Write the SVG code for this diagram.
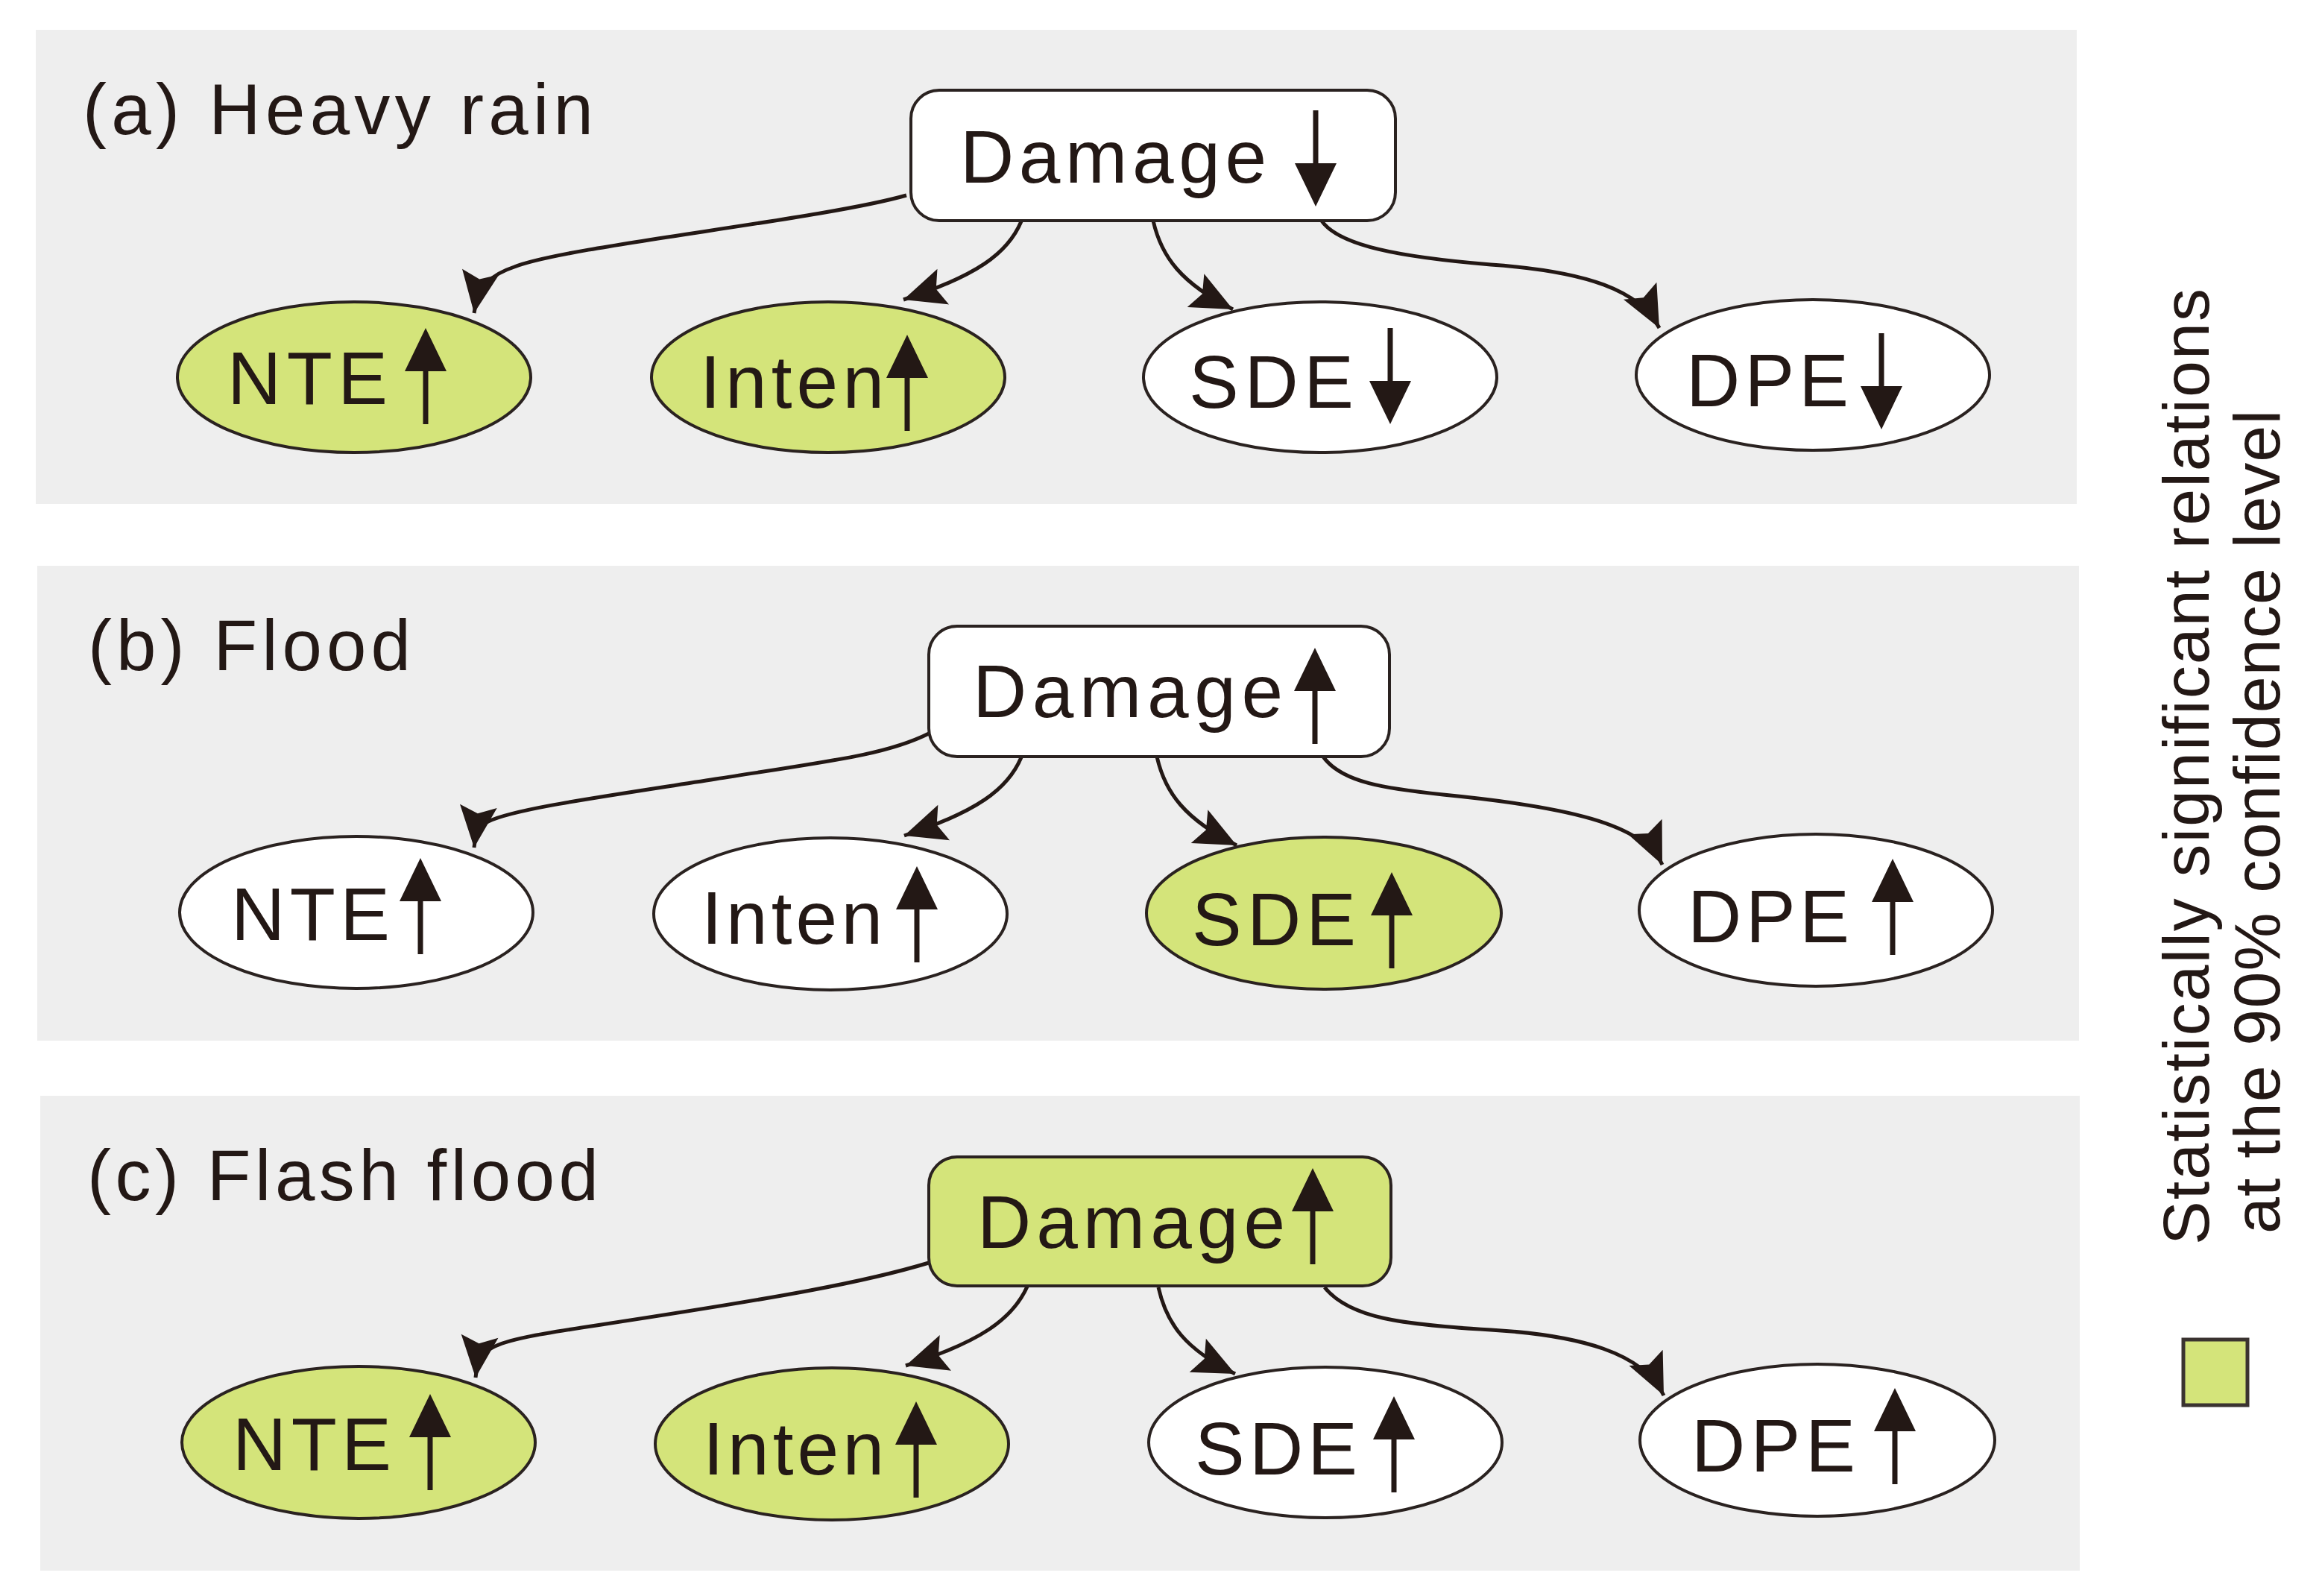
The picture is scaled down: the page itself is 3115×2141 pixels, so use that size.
<svg xmlns="http://www.w3.org/2000/svg" xmlns:xlink="http://www.w3.org/1999/xlink" width="3115" height="2141" viewBox="0 0 3115 2141">
<style>
.panel{fill:#eeeeee;}
.box{stroke:#2a2220;stroke-width:4;}
.ell{stroke:#2a2220;stroke-width:4;}
.w{fill:#ffffff;}
.g{fill:#d4e47a;}
.lbl{font-family:"Liberation Sans",Arial,sans-serif;font-size:100px;fill:#231815;}
.ttl{font-family:"Liberation Sans",Arial,sans-serif;font-size:96px;fill:#231815;}
.leg{font-family:"Liberation Sans",Arial,sans-serif;font-size:88px;fill:#231815;}
.con{fill:none;stroke:#231815;stroke-width:5;marker-end:url(#ah);}
.ar{fill:#231815;}
</style>
<defs>
<marker id="ah" markerUnits="userSpaceOnUse" viewBox="-60 -30 62 60" markerWidth="62" markerHeight="60" refX="0" refY="0" orient="auto">
<path d="M0,0 L-56,-25 L-46,0 L-56,25 Z" fill="#231815"/>
</marker>
<path id="up" d="M0,0 L28,58 L3.5,58 L3.5,129 L-3.5,129 L-3.5,58 L-28,58 Z"/>
<path id="dn" d="M0,0 L28,-58 L3.5,-58 L3.5,-129 L-3.5,-129 L-3.5,-58 L-28,-58 Z"/>
</defs>
<rect width="3115" height="2141" fill="#ffffff"/>

<g id="panels">
<rect class="panel" x="48" y="40" width="2738" height="636"/>
<rect class="panel" x="50" y="759" width="2739" height="637"/>
<rect class="panel" x="54" y="1470" width="2736" height="637"/>
</g>

<g id="titles">
<text class="ttl" x="111" y="180" textLength="685">(a) Heavy rain</text>
<text class="ttl" x="118" y="899" textLength="433">(b) Flood</text>
<text class="ttl" x="117" y="1610" textLength="686">(c) Flash flood</text>
</g>

<g id="connectors">
<path class="con" d="M1216,262 C1100,295 760,330 690,358 C660,368 642,382 636,420"/>
<path class="con" d="M1370,297 C1352,340 1310,370 1212,402"/>
<path class="con" d="M1547,296 C1558,345 1585,380 1654,415"/>
<path class="con" d="M1772,295 C1795,330 1880,345 2000,355 C2130,364 2200,390 2226,440"/>

<path class="con" d="M1246,984 C1190,1012 1120,1020 960,1045 C800,1070 690,1085 655,1102 C643,1108 638,1118 636,1137"/>
<path class="con" d="M1370,1016 C1352,1059 1310,1089 1213,1121"/>
<path class="con" d="M1552,1015 C1563,1064 1590,1099 1659,1134"/>
<path class="con" d="M1775,1015 C1800,1050 1860,1058 1936,1066 C2100,1082 2205,1105 2230,1160"/>

<path class="con" d="M1246,1694 C1160,1720 1050,1740 800,1778 C720,1790 680,1797 660,1808 C645,1816 640,1828 638,1848"/>
<path class="con" d="M1378,1726 C1358,1770 1315,1800 1215,1832"/>
<path class="con" d="M1554,1727 C1565,1776 1590,1810 1657,1843"/>
<path class="con" d="M1777,1727 C1810,1768 1880,1777 2000,1784 C2120,1791 2205,1815 2232,1872"/>
</g>

<g id="a-damage">
<rect class="box w" x="1222" y="121" width="650" height="175" rx="38"/>
<text class="lbl" x="1288" y="245" textLength="411">Damage</text>
<use class="ar" href="#dn" x="1765" y="277"/>
</g>
<g id="a-nte">
<ellipse class="ell g" cx="475" cy="506" rx="237" ry="101"/>
<text class="lbl" x="305" y="542" textLength="215">NTE</text>
<use class="ar" href="#up" x="571" y="440"/>
</g>
<g id="a-inten">
<ellipse class="ell g" cx="1111" cy="506" rx="237" ry="101"/>
<text class="lbl" x="939" y="547" textLength="247">Inten</text>
<use class="ar" href="#up" x="1217" y="449"/>
</g>
<g id="a-sde">
<ellipse class="ell w" cx="1771" cy="506" rx="237" ry="101"/>
<text class="lbl" x="1595" y="547" textLength="221">SDE</text>
<use class="ar" href="#dn" x="1865" y="569"/>
</g>
<g id="a-dpe">
<ellipse class="ell w" cx="2432" cy="503" rx="237" ry="101"/>
<text class="lbl" x="2262" y="545" textLength="218">DPE</text>
<use class="ar" href="#dn" x="2524" y="576"/>
</g>

<g id="b-damage">
<rect class="box w" x="1246" y="840" width="618" height="175" rx="38"/>
<text class="lbl" x="1305" y="962" textLength="416">Damage</text>
<use class="ar" href="#up" x="1764" y="869"/>
</g>
<g id="b-nte">
<ellipse class="ell w" cx="478" cy="1224" rx="237" ry="102"/>
<text class="lbl" x="310" y="1261" textLength="213">NTE</text>
<use class="ar" href="#up" x="564" y="1151"/>
</g>
<g id="b-inten">
<ellipse class="ell w" cx="1114" cy="1226" rx="237" ry="102"/>
<text class="lbl" x="941" y="1266" textLength="243">Inten</text>
<use class="ar" href="#up" x="1230" y="1162"/>
</g>
<g id="b-sde">
<ellipse class="ell g" cx="1776" cy="1225" rx="238" ry="102"/>
<text class="lbl" x="1599" y="1268" textLength="220">SDE</text>
<use class="ar" href="#up" x="1867" y="1170"/>
</g>
<g id="b-dpe">
<ellipse class="ell w" cx="2436" cy="1221" rx="237" ry="102"/>
<text class="lbl" x="2264" y="1264" textLength="217">DPE</text>
<use class="ar" href="#up" x="2539" y="1152"/>
</g>

<g id="c-damage">
<rect class="box g" x="1246" y="1552" width="620" height="173" rx="38"/>
<text class="lbl" x="1311" y="1674" textLength="413">Damage</text>
<use class="ar" href="#up" x="1761" y="1567"/>
</g>
<g id="c-nte">
<ellipse class="ell g" cx="481" cy="1935" rx="237" ry="102"/>
<text class="lbl" x="312" y="1972" textLength="213">NTE</text>
<use class="ar" href="#up" x="577" y="1870"/>
</g>
<g id="c-inten">
<ellipse class="ell g" cx="1116" cy="1937" rx="237" ry="102"/>
<text class="lbl" x="943" y="1978" textLength="243">Inten</text>
<use class="ar" href="#up" x="1229" y="1880"/>
</g>
<g id="c-sde">
<ellipse class="ell w" cx="1778" cy="1935" rx="237" ry="101"/>
<text class="lbl" x="1603" y="1978" textLength="218">SDE</text>
<use class="ar" href="#up" x="1870" y="1873"/>
</g>
<g id="c-dpe">
<ellipse class="ell w" cx="2438" cy="1932" rx="238" ry="102"/>
<text class="lbl" x="2269" y="1974" textLength="220">DPE</text>
<use class="ar" href="#up" x="2542" y="1862"/>
</g>

<g id="legend">
<text class="leg" transform="translate(2963,1670) rotate(-90)" textLength="1283">Statistically significant relations</text>
<text class="leg" transform="translate(3058,1655) rotate(-90)" textLength="1105">at the 90% confidence level</text>
<rect x="2929" y="1797" width="86" height="88" fill="#d4e47a" stroke="#3a3330" stroke-width="5"/>
</g>
</svg>
